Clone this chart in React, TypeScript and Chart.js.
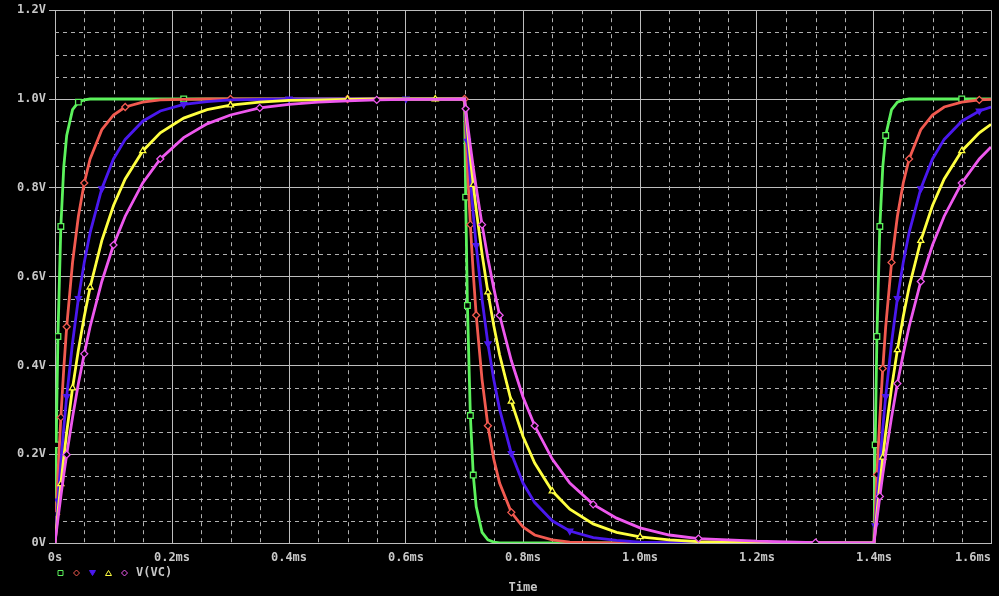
import React, { useEffect, useRef } from 'react';
import { Chart, registerables } from 'chart.js';

Chart.register(...registerables);

// time axis in ms (simulation sample points)
const timeMs = [
  0, 0.002, 0.005, 0.01, 0.015, 0.02, 0.03, 0.04, 0.05, 0.06, 0.08, 0.1, 0.12, 0.15, 0.18, 0.22, 0.26, 0.3, 0.35, 0.4, 0.45, 0.5, 0.55, 0.6, 0.65, 0.7,
  0.702, 0.705, 0.71, 0.715, 0.72, 0.73, 0.74, 0.75, 0.76, 0.78, 0.8, 0.82, 0.85, 0.88, 0.92, 0.96, 1.0, 1.05, 1.1, 1.2, 1.3, 1.4,
  1.402, 1.405, 1.41, 1.415, 1.42, 1.43, 1.44, 1.45, 1.46, 1.48, 1.5, 1.52, 1.55, 1.58, 1.6,
];

// V(VC) for the five swept traces (volts)
const vGreen = [
  0, 0.221, 0.465, 0.713, 0.847, 0.918, 0.976, 0.993, 0.998, 1, 1, 1, 1, 1, 1, 1, 1, 1, 1, 1, 1, 1, 1, 1, 1, 1,
  0.779, 0.535, 0.287, 0.153, 0.082, 0.024, 0.007, 0.002, 0, 0, 0, 0, 0, 0, 0, 0, 0, 0, 0, 0, 0, 0,
  0.221, 0.465, 0.713, 0.847, 0.918, 0.976, 0.993, 0.998, 1, 1, 1, 1, 1, 1, 1,
];
const vRed = [
  0, 0.065, 0.154, 0.283, 0.393, 0.487, 0.632, 0.736, 0.811, 0.865, 0.931, 0.964, 0.982, 0.993, 0.998, 0.999, 1, 1, 1, 1, 1, 1, 1, 1, 1, 1,
  0.935, 0.846, 0.717, 0.607, 0.513, 0.368, 0.264, 0.189, 0.135, 0.069, 0.036, 0.018, 0.007, 0.002, 0.001, 0, 0, 0, 0, 0, 0, 0,
  0.065, 0.154, 0.283, 0.393, 0.487, 0.632, 0.736, 0.811, 0.865, 0.931, 0.964, 0.982, 0.993, 0.998, 0.999,
];
const vBlue = [
  0, 0.039, 0.095, 0.181, 0.259, 0.33, 0.451, 0.551, 0.632, 0.699, 0.798, 0.865, 0.909, 0.95, 0.973, 0.988, 0.994, 0.998, 0.999, 1, 1, 1, 1, 1, 1, 1,
  0.961, 0.905, 0.819, 0.741, 0.67, 0.549, 0.449, 0.368, 0.301, 0.202, 0.135, 0.091, 0.05, 0.027, 0.012, 0.006, 0.002, 0.001, 0, 0, 0, 0,
  0.039, 0.095, 0.181, 0.259, 0.33, 0.451, 0.551, 0.632, 0.699, 0.798, 0.865, 0.909, 0.95, 0.973, 0.982,
];
const vYellow = [
  0, 0.028, 0.069, 0.133, 0.193, 0.249, 0.349, 0.435, 0.51, 0.576, 0.681, 0.76, 0.82, 0.883, 0.924, 0.957, 0.976, 0.986, 0.993, 0.997, 0.998, 0.999, 1, 1, 1, 1,
  0.972, 0.931, 0.867, 0.807, 0.751, 0.651, 0.565, 0.49, 0.424, 0.319, 0.24, 0.18, 0.117, 0.076, 0.043, 0.024, 0.014, 0.007, 0.003, 0.001, 0, 0,
  0.028, 0.069, 0.133, 0.193, 0.249, 0.349, 0.435, 0.51, 0.576, 0.681, 0.76, 0.82, 0.883, 0.924, 0.943,
];
const vMagenta = [
  0, 0.022, 0.054, 0.105, 0.154, 0.199, 0.283, 0.359, 0.426, 0.487, 0.589, 0.671, 0.736, 0.811, 0.865, 0.913, 0.944, 0.964, 0.98, 0.988, 0.993, 0.996, 0.998, 0.999, 0.999, 1,
  0.978, 0.946, 0.895, 0.846, 0.801, 0.717, 0.641, 0.574, 0.513, 0.411, 0.329, 0.264, 0.189, 0.135, 0.087, 0.056, 0.034, 0.018, 0.01, 0.004, 0.001, 0,
  0.022, 0.054, 0.105, 0.154, 0.199, 0.283, 0.359, 0.426, 0.487, 0.589, 0.671, 0.736, 0.811, 0.865, 0.892,
];

// sample indices where each trace shows its marker symbol
const marksGreen = [1, 2, 3, 7, 15, 26, 27, 28, 29, 48, 49, 50, 52, 60];
const marksRed = [1, 3, 5, 8, 12, 17, 21, 25, 28, 30, 32, 35, 49, 51, 53, 56, 61];
const marksBlue = [2, 5, 7, 10, 15, 19, 23, 27, 30, 32, 35, 39, 48, 52, 54, 57, 61];
const marksYellow = [3, 6, 9, 13, 17, 21, 24, 29, 32, 35, 38, 42, 51, 54, 57, 60];
const marksMagenta = [5, 8, 11, 14, 18, 22, 26, 31, 34, 37, 40, 44, 46, 50, 54, 57, 60];

const yTickLabels = ['0V', '0.2V', '0.4V', '0.6V', '0.8V', '1.0V', '1.2V'];
const xTickLabels = ['0s', '0.2ms', '0.4ms', '0.6ms', '0.8ms', '1.0ms', '1.2ms', '1.4ms', '1.6ms'];
const legendLabel = 'V(VC)';
const xTitle = 'Time';

const GRID = '#bdbdbd';
const MINOR = '#b0b0b0';
const TEXT = '#c8c8c8';
const FONT = 'bold 12px "DejaVu Sans Mono"';

const C_GREEN = '#5cf25c';
const C_RED = '#f25a50';
const C_BLUE = '#4a18ee';
const C_YELLOW = '#ffff40';
const C_MAGENTA = '#ee58ee';

type Mark = 'square' | 'diamond' | 'down' | 'up';

function drawMark(ctx: CanvasRenderingContext2D, m: Mark, x: number, y: number, color: string, filled: boolean) {
  ctx.beginPath();
  if (m === 'square') {
    ctx.rect(x - 2.5, y - 2.5, 5, 5);
  } else if (m === 'diamond') {
    ctx.moveTo(x, y - 3); ctx.lineTo(x + 3, y); ctx.lineTo(x, y + 3); ctx.lineTo(x - 3, y); ctx.closePath();
  } else if (m === 'down') {
    ctx.moveTo(x - 3, y - 2.5); ctx.lineTo(x + 3, y - 2.5); ctx.lineTo(x, y + 2.5); ctx.closePath();
  } else {
    ctx.moveTo(x - 3, y + 2.5); ctx.lineTo(x + 3, y + 2.5); ctx.lineTo(x, y - 2.5); ctx.closePath();
  }
  ctx.lineWidth = 1;
  ctx.strokeStyle = color;
  ctx.stroke();
  if (filled) { ctx.fillStyle = color; ctx.fill(); }
}

const pspicePlugin = {
  id: 'pspice',
  beforeDatasetsDraw(chart: any) {
    const { ctx, chartArea: a, scales } = chart;
    const x = scales.x, y = scales.y;
    ctx.save();
    ctx.strokeStyle = MINOR;
    ctx.lineWidth = 1;
    ctx.setLineDash([4, 4]);
    for (let i = 1; i < 32; i++) {
      if (i % 4 === 0) continue;
      const px = Math.round(x.getPixelForValue(i * 0.05)) + 0.5;
      ctx.beginPath(); ctx.moveTo(px, a.top); ctx.lineTo(px, a.bottom); ctx.stroke();
    }
    for (let i = 1; i < 24; i++) {
      if (i % 4 === 0) continue;
      const py = Math.round(y.getPixelForValue(i * 0.05)) + 0.5;
      ctx.beginPath(); ctx.moveTo(a.left, py); ctx.lineTo(a.right, py); ctx.stroke();
    }
    ctx.restore();
  },
  afterDraw(chart: any) {
    const { ctx, chartArea: a, scales } = chart;
    const x = scales.x;
    ctx.save();
    ctx.font = FONT;
    ctx.fillStyle = TEXT;
    ctx.textBaseline = 'middle';
    xTickLabels.forEach((lab, i) => {
      const px = x.getPixelForValue(i * 0.2);
      ctx.textAlign = i === xTickLabels.length - 1 ? 'right' : 'center';
      ctx.fillText(lab, px, a.bottom + 14.5);
    });
    const ly = a.bottom + 30;
    const marks: [Mark, string, boolean][] = [
      ['square', C_GREEN, false],
      ['diamond', C_RED, false],
      ['down', C_BLUE, true],
      ['up', C_YELLOW, false],
      ['diamond', C_MAGENTA, false],
    ];
    marks.forEach(([m, c, f], i) => drawMark(ctx, m, a.left + 5.5 + 16 * i, ly, c, f));
    ctx.fillStyle = TEXT;
    ctx.textAlign = 'left';
    ctx.fillText(legendLabel, a.left + 81, ly);
    ctx.textAlign = 'center';
    ctx.fillText(xTitle, (a.left + a.right) / 2, a.bottom + 44.5);
    ctx.restore();
  },
};

export default function App() {
  const ref = useRef<HTMLCanvasElement>(null);
  useEffect(() => {
    document.body.style.margin = '0';
    document.body.style.background = '#000';
    const pts = (vals: number[]) => timeMs.map((t, i) => ({ x: t, y: vals[i] }));
    const ds = (vals: number[], color: string, style: string, marks: number[], order: number, filled: boolean, rot = 0, r = 4) => ({
      data: pts(vals),
      borderColor: color,
      borderWidth: 2.8,
      tension: 0,
      pointStyle: style,
      pointRotation: rot,
      pointRadius: (c: any) => (marks.includes(c.dataIndex) ? r : 0),
      pointHoverRadius: 0,
      pointBorderWidth: 1.3,
      pointBorderColor: color,
      pointBackgroundColor: filled ? color : '#000',
      order,
    });
    const chart = new Chart(ref.current as HTMLCanvasElement, {
      type: 'line',
      data: {
        datasets: [
          ds(vGreen, C_GREEN, 'rect', marksGreen, 5, false, 0, 4),
          ds(vRed, C_RED, 'rectRot', marksRed, 4, false, 0, 3.5),
          ds(vBlue, C_BLUE, 'triangle', marksBlue, 3, true, 180, 3.5),
          ds(vYellow, C_YELLOW, 'triangle', marksYellow, 2, false, 0, 3.5),
          ds(vMagenta, C_MAGENTA, 'rectRot', marksMagenta, 1, false, 0, 3.5),
        ] as any,
      },
      options: {
        responsive: false,
        animation: false,
        events: [],
        layout: { padding: { left: 0, right: 8, top: 7, bottom: 0 } },
        plugins: { legend: { display: false }, tooltip: { enabled: false }, title: { display: false } },
        scales: {
          x: {
            type: 'linear',
            min: 0,
            max: 1.6,
            ticks: { display: false, stepSize: 0.2 },
            grid: { color: GRID, lineWidth: 1, drawTicks: false },
            border: { color: GRID, width: 1 },
            afterFit: (s: any) => { s.height = 53; },
          },
          y: {
            type: 'linear',
            min: 0,
            max: 1.2,
            ticks: {
              stepSize: 0.2,
              padding: 3,
              color: TEXT,
              font: { family: 'DejaVu Sans Mono', size: 12, weight: 'bold' },
              callback: (_v: any, i: number) => yTickLabels[i],
            },
            grid: { color: GRID, lineWidth: 1, drawTicks: true, tickLength: 6, tickColor: GRID },
            border: { color: GRID, width: 1 },
            afterFit: (s: any) => { s.width = 55; },
          },
        },
      } as any,
      plugins: [pspicePlugin],
    });
    return () => chart.destroy();
  }, []);
  return (
    <div style={{ position: 'fixed', left: 0, top: 0, width: 999, height: 596, background: '#000' }}>
      <canvas ref={ref} width={999} height={596} style={{ display: 'block' }} />
    </div>
  );
}
